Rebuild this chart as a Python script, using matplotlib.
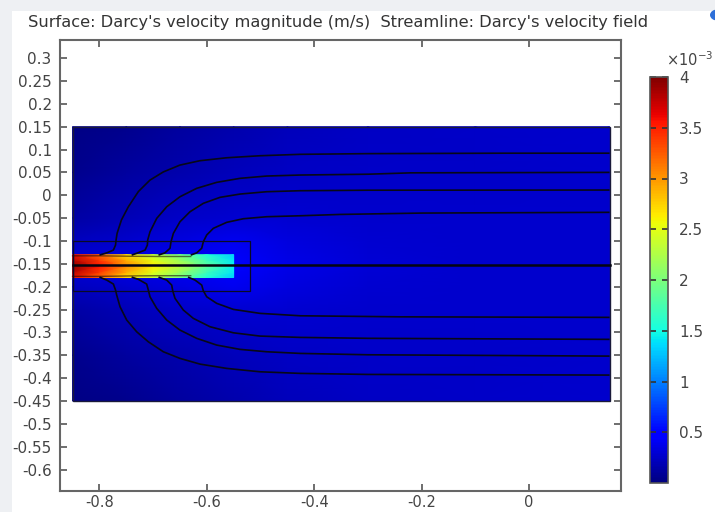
import matplotlib
matplotlib.use('Agg')
import matplotlib.pyplot as plt
from matplotlib.patches import Rectangle, Circle
from matplotlib.ticker import FuncFormatter
import numpy as np

plt.rcParams['axes.unicode_minus'] = False
plt.rcParams['font.family'] = 'DejaVu Sans'

TITLE = "Surface: Darcy's velocity magnitude (m/s)  Streamline: Darcy's velocity field"

# domain, inner block and injection strip (m)
DOMAIN = (-0.85, 0.15, -0.45, 0.15)
BLOCK = (-0.85, -0.52, -0.21, -0.10)
STRIP = (-0.85, -0.55, -0.18, -0.13)

# velocity magnitude in the porous domain, units of 1e-3 m/s
BG_X = [-0.85, -0.75, -0.65, -0.55, -0.45, -0.3, -0.1, 0.15]
BG_Y = [-0.45, -0.35, -0.25, -0.2, -0.155, -0.1, -0.05, 0.05, 0.15]
BG_V = [
    [0.02, 0.06, 0.12, 0.17, 0.21, 0.24, 0.26, 0.27],
    [0.06, 0.11, 0.17, 0.21, 0.24, 0.25, 0.26, 0.27],
    [0.13, 0.19, 0.25, 0.29, 0.29, 0.27, 0.27, 0.27],
    [0.22, 0.28, 0.34, 0.40, 0.33, 0.29, 0.28, 0.27],
    [0.30, 0.36, 0.42, 0.50, 0.36, 0.30, 0.28, 0.27],
    [0.22, 0.28, 0.34, 0.40, 0.33, 0.29, 0.28, 0.27],
    [0.13, 0.19, 0.25, 0.29, 0.29, 0.27, 0.27, 0.27],
    [0.06, 0.11, 0.17, 0.21, 0.24, 0.25, 0.26, 0.27],
    [0.02, 0.06, 0.12, 0.17, 0.21, 0.24, 0.26, 0.27],
]

# velocity magnitude inside the strip, units of 1e-3 m/s
ST_X = [-0.85, -0.80, -0.75, -0.70, -0.65, -0.60, -0.55]
ST_Y = [-0.18, -0.168, -0.155, -0.142, -0.13]
ST_V = [
    [3.6, 3.2, 2.7, 2.30, 1.95, 1.55, 1.30],
    [3.8, 3.4, 2.9, 2.50, 2.15, 1.70, 1.40],
    [3.95, 3.55, 3.05, 2.65, 2.30, 1.85, 1.45],
    [3.8, 3.4, 2.9, 2.50, 2.15, 1.70, 1.40],
    [3.6, 3.2, 2.7, 2.30, 1.95, 1.55, 1.30],
]

# streamlines (x, y) in m, outside the strip
T1_X = [-0.80, -0.786, -0.774, -0.770, -0.769, -0.767, -0.759, -0.746, -0.7275, -0.706, -0.681, -0.650, -0.613, -0.563, -0.501, -0.426, -0.30, -0.05, 0.15]
T1_Y = [-0.131, -0.126, -0.120, -0.109, -0.098, -0.083, -0.054, -0.025, 0.008, 0.033, 0.051, 0.066, 0.0755, 0.082, 0.0864, 0.0895, 0.091, 0.092, 0.092]
T2_X = [-0.74, -0.7306, -0.715, -0.7107, -0.7101, -0.7058, -0.6933, -0.6747, -0.650, -0.6188, -0.5816, -0.538, -0.4885, -0.426, -0.30, -0.22, 0.15]
T2_Y = [-0.131, -0.127, -0.120, -0.109, -0.098, -0.080, -0.0506, -0.0252, -0.0033, 0.0151, 0.0282, 0.037, 0.042, 0.0442, 0.046, 0.049, 0.050]
T3_X = [-0.69, -0.678, -0.6685, -0.6667, -0.6623, -0.650, -0.6313, -0.6065, -0.5754, -0.538, -0.4885, -0.426, -0.30, 0.15]
T3_Y = [-0.131, -0.126, -0.116, -0.1017, -0.0834, -0.058, -0.0361, -0.0177, -0.0046, 0.0026, 0.0077, 0.0099, 0.011, 0.0114]
T4_X = [-0.63, -0.6188, -0.6095, -0.6065, -0.6002, -0.5879, -0.563, -0.532, -0.4885, -0.426, -0.352, -0.2, 0.15]
T4_Y = [-0.131, -0.126, -0.116, -0.1017, -0.087, -0.0724, -0.0593, -0.0514, -0.047, -0.0449, -0.042, -0.039, -0.0374]
B1_X = [-0.80, -0.7864, -0.774, -0.770, -0.7678, -0.7616, -0.7492, -0.7306, -0.7089, -0.681, -0.650, -0.6127, -0.563, -0.501, -0.426, -0.30, 0.15]
B1_Y = [-0.179, -0.1856, -0.1943, -0.2074, -0.2184, -0.244, -0.273, -0.2987, -0.3206, -0.3424, -0.3569, -0.3694, -0.3788, -0.3862, -0.3897, -0.392, -0.3934]
B2_X = [-0.74, -0.7275, -0.712, -0.7089, -0.7058, -0.6933, -0.6747, -0.650, -0.6188, -0.5816, -0.538, -0.4885, -0.426, -0.30, 0.15]
B2_Y = [-0.179, -0.184, -0.1943, -0.2074, -0.2221, -0.2475, -0.273, -0.295, -0.3131, -0.3278, -0.3372, -0.3424, -0.346, -0.349, -0.3519]
B3_X = [-0.69, -0.6747, -0.6654, -0.6635, -0.6592, -0.6437, -0.6251, -0.594, -0.5506, -0.501, -0.426, -0.30, 0.15]
B3_Y = [-0.179, -0.1856, -0.1965, -0.209, -0.2256, -0.2512, -0.2694, -0.2877, -0.3009, -0.3081, -0.311, -0.313, -0.3153]
B4_X = [-0.635, -0.622, -0.6095, -0.6065, -0.6002, -0.5816, -0.5506, -0.501, -0.426, -0.24, 0.15]
B4_Y = [-0.179, -0.1856, -0.1965, -0.209, -0.2221, -0.2365, -0.2497, -0.2584, -0.2637, -0.266, -0.2672]
MID_X = [-0.85, 0.15]
MID_Y = [-0.153, -0.153]

# streamline traces inside the strip, running along its edges
IN_X = [-0.85, -0.80, -0.74, -0.69, -0.63]
IN_TOP_Y = [-0.1325, -0.1325, -0.1335, -0.134, -0.134]
IN_BOT_Y = [-0.1775, -0.1775, -0.1765, -0.176, -0.176]

CB_TICKS = [0.5, 1, 1.5, 2, 2.5, 3, 3.5, 4]
V_MIN, V_MAX = 0.0, 4.0

W, H = 715, 512
fig = plt.figure(figsize=(W / 100, H / 100), dpi=100, facecolor='#eef0f3')
# white panel behind the plot
fig.patches.append(Rectangle((12 / W, 0), 1 - 12 / W, 1 - 11 / H, transform=fig.transFigure,
                             facecolor='white', edgecolor='none', zorder=-1))
fig.patches.append(Circle((718 / W, 1 - 15 / H), 8 / W, transform=fig.transFigure,
                          facecolor='#2e6fd8', edgecolor='none', zorder=0))

ax = fig.add_axes([60 / W, 1 - 491 / H, 561 / W, 451 / H])
ax.set_facecolor('white')

bx, by = np.meshgrid(BG_X, BG_Y)
mesh = ax.pcolormesh(bx, by, np.array(BG_V), shading='gouraud', cmap='jet', vmin=V_MIN, vmax=V_MAX)
sx, sy = np.meshgrid(ST_X, ST_Y)
ax.pcolormesh(sx, sy, np.array(ST_V), shading='gouraud', cmap='jet', vmin=V_MIN, vmax=V_MAX)

x0, x1, y0, y1 = DOMAIN
ax.add_patch(Rectangle((x0, y0), x1 - x0, y1 - y0, fill=False, edgecolor='#1a1a3a', lw=1.0))
x0, x1, y0, y1 = BLOCK
ax.add_patch(Rectangle((x0, y0), x1 - x0, y1 - y0, fill=False, edgecolor='#0a0a25', lw=0.9))

for xs, ys in [(T1_X, T1_Y), (T2_X, T2_Y), (T3_X, T3_Y), (T4_X, T4_Y),
               (B1_X, B1_Y), (B2_X, B2_Y), (B3_X, B3_Y), (B4_X, B4_Y)]:
    ax.plot(xs, ys, color='#080818', lw=1.2, solid_capstyle='butt')
for ys in (IN_TOP_Y, IN_BOT_Y):
    ax.plot(IN_X, ys, color='#200808', lw=1.0, alpha=0.6)
ax.plot(MID_X, MID_Y, color='#050510', lw=1.8)

ax.set_xlim(-0.8734, 0.1713)
ax.set_ylim(-0.647, 0.3396)
ax.set_xticks([-0.8, -0.6, -0.4, -0.2, 0])
ax.set_yticks(np.round(np.arange(-0.6, 0.301, 0.05), 2))
fmt = FuncFormatter(lambda v, p: '%g' % round(v, 2))
ax.xaxis.set_major_formatter(fmt)
ax.yaxis.set_major_formatter(fmt)
ax.tick_params(direction='in', length=5, width=1.2, color='#555555', labelcolor='#444444',
               labelsize=11, top=True, right=True, pad=6)
ax.tick_params(axis='x', labelsize=10.5, pad=3)
for s in ax.spines.values():
    s.set_color('#666666')
    s.set_linewidth(1.5)

fig.text(28 / W, 1 - 22 / H, TITLE, ha='left', va='center', fontsize=11.7, color='#333333')

cax = fig.add_axes([650 / W, 1 - 483 / H, 18 / W, 406 / H])
cb = fig.colorbar(mesh, cax=cax, ticks=CB_TICKS)
cb.ax.set_yticklabels(['%g' % t for t in CB_TICKS])
cb.ax.tick_params(direction='in', length=4, width=1.2, color='#333333', labelcolor='#444444',
                  labelsize=11, left=True, right=True, pad=8)
cb.outline.set_edgecolor('#555555')
cb.outline.set_linewidth(1.2)
cax.text(0.9, 1.02, '\u00d710$^{-3}$', transform=cax.transAxes, ha='left', va='bottom',
         fontsize=10.5, color='#444444')

fig.savefig('out.png', dpi=100, facecolor=fig.get_facecolor())
